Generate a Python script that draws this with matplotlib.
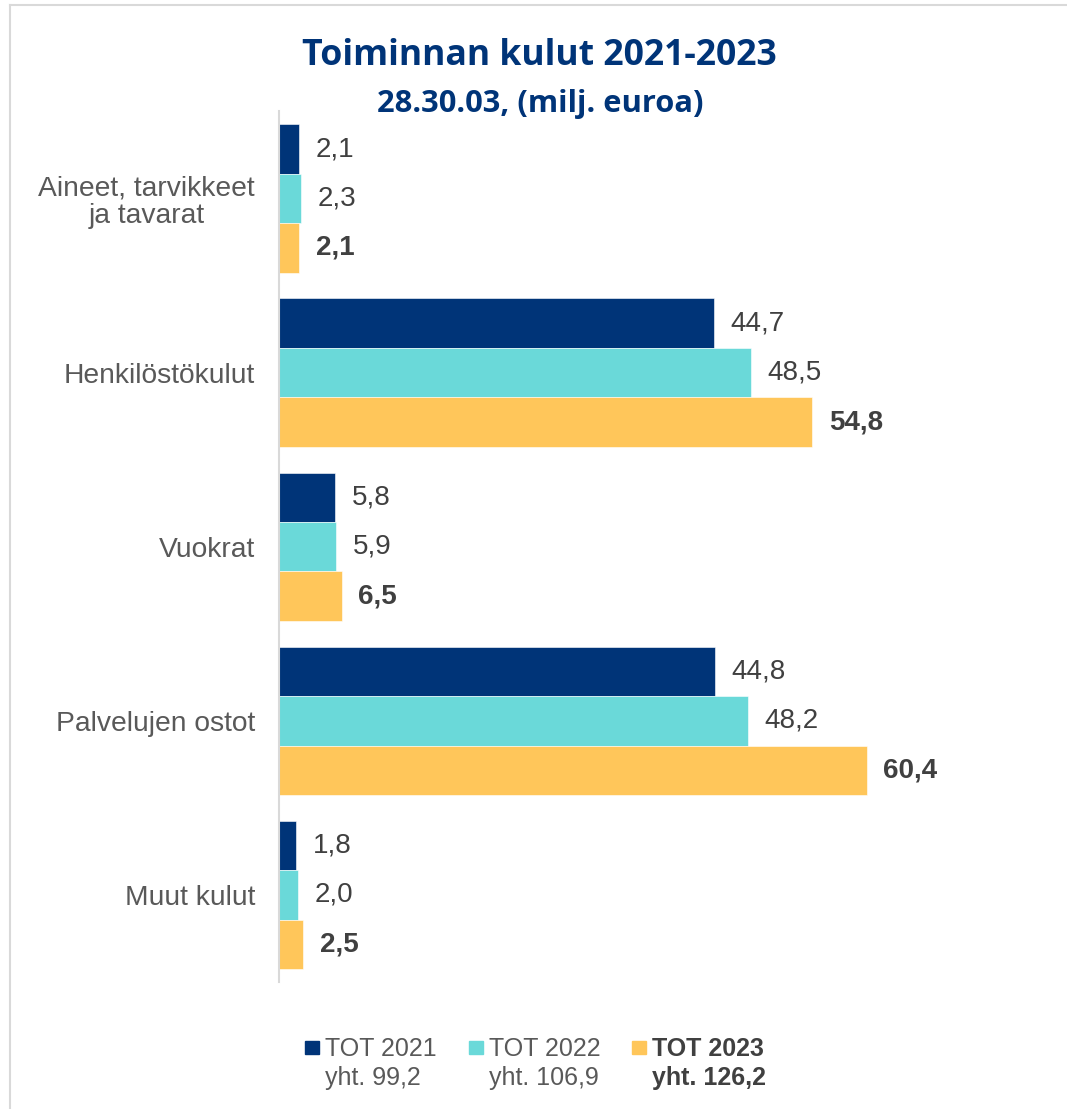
import matplotlib
matplotlib.use("Agg")
import matplotlib.pyplot as plt
from matplotlib.lines import Line2D
from matplotlib.patches import Rectangle
import numpy as np

W, H = 1067, 1109

categories = ["Aineet, tarvikkeet\nja tavarat", "Henkilöstökulut", "Vuokrat",
              "Palvelujen ostot", "Muut kulut"]
tot_2021 = [2.1, 44.7, 5.8, 44.8, 1.8]
tot_2022 = [2.3, 48.5, 5.9, 48.2, 2.0]
tot_2023 = [2.1, 54.8, 6.5, 60.4, 2.5]
series_names = ["TOT 2021", "TOT 2022", "TOT 2023"]
series_totals = ["yht. 99,2", "yht. 106,9", "yht. 126,2"]
colors = ["#003478", "#6AD9D9", "#FFC65A"]

plt.rcParams['font.family'] = ['Liberation Sans', 'DejaVu Sans']


def px(x, y):
    return x / W, 1 - y / H


fig = plt.figure(figsize=(W / 100, H / 100), dpi=100)
ax = fig.add_axes([278.5 / W, 1 - 982 / H, 779 / W, 870.6 / H])

y = np.arange(len(categories))
h = 0.284
series = [tot_2021, tot_2022, tot_2023]
for i, vals in enumerate(series):
    pos = y + (i - 1) * h
    ax.barh(pos, vals, height=h, color=colors[i], edgecolor="white", linewidth=0.4)
    for p, v in zip(pos, vals):
        ax.annotate(f"{v:.1f}".replace(".", ","), (v, p), xytext=(12, 0),
                    textcoords="offset points", va="center", ha="left",
                    fontsize=20, color="#404040",
                    fontweight="bold" if i == 2 else "normal")

ax.set_xlim(0, 80)
ax.set_ylim(4.5, -0.5)
ax.set_yticks(y)
ax.set_yticklabels(categories, fontsize=20.3, color="#595959", linespacing=1.08)
for lbl in ax.get_yticklabels():
    lbl.set_multialignment("center")
ax.tick_params(axis="y", length=0, pad=17)
ax.set_xticks([])
for s in ["top", "right", "bottom"]:
    ax.spines[s].set_visible(False)
ax.spines["left"].set_color("#D9D9D9")
ax.spines["left"].set_linewidth(1.5)

# titles
fig.text(*px(539, 65), "Toiminnan kulut 2021-2023", ha="center", va="baseline",
         fontsize=25.7, fontweight="bold", color="#003478", family="Open Sans")
fig.text(*px(540, 112), "28.30.03, (milj. euroa)", ha="center", va="baseline",
         fontsize=22.2, fontweight="bold", color="#003478", family="Open Sans")

# legend
leg_x = [305, 469, 632]
for i in range(3):
    x0, y0 = px(leg_x[i], 1054)
    fig.add_artist(Rectangle((x0, y0), 14 / W, 13 / H, color=colors[i],
                             transform=fig.transFigure))
    wt = "bold" if i == 2 else "normal"
    col = "#404040" if i == 2 else "#595959"
    fig.text(*px(leg_x[i] + 20, 1056), series_names[i], ha="left", va="baseline",
             fontsize=18, color=col, fontweight=wt)
    fig.text(*px(leg_x[i] + 20, 1085), series_totals[i], ha="left", va="baseline",
             fontsize=18, color=col, fontweight=wt)

# chart frame
fig.add_artist(Line2D([10 / W, 1], [1 - 5 / H, 1 - 5 / H], color="#D9D9D9",
                      lw=1.5, transform=fig.transFigure))
fig.add_artist(Line2D([10 / W, 10 / W], [0, 1 - 5 / H], color="#D9D9D9",
                      lw=1.5, transform=fig.transFigure))

fig.savefig("out.png", dpi=100)
